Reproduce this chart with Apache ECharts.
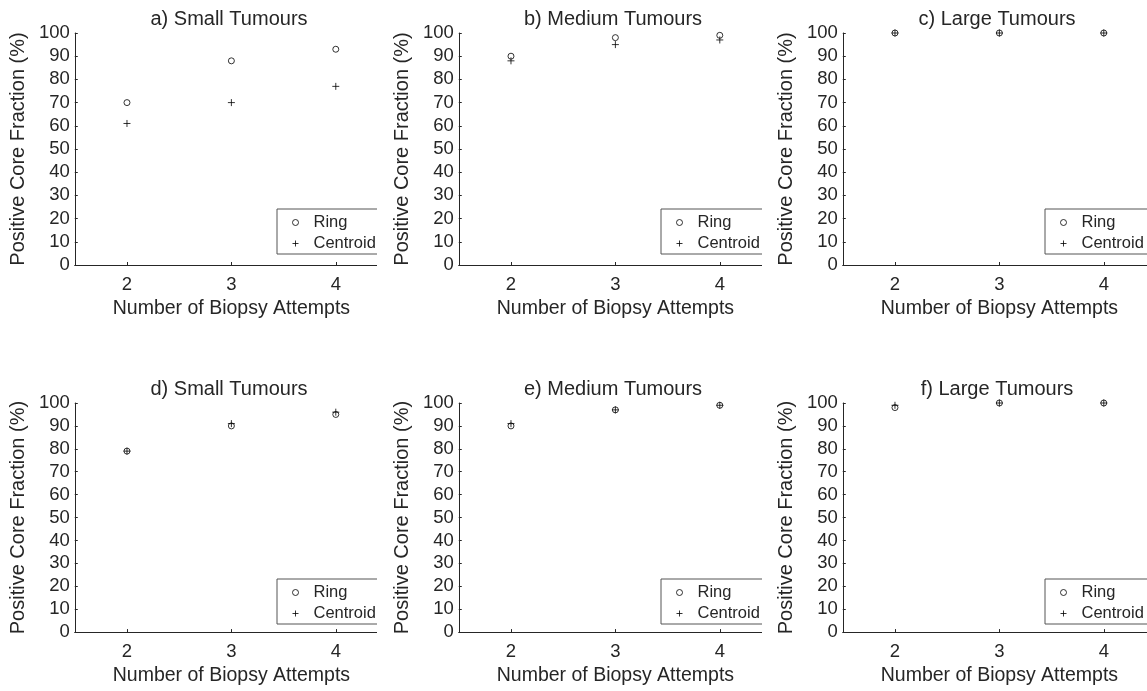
<!DOCTYPE html>
<html>
<head>
<meta charset="utf-8">
<script src="https://cdn.jsdelivr.net/npm/echarts@6/dist/echarts.min.js"></script>
<style>
  html, body { margin: 0; padding: 0; background: #fff; width: 1147px; height: 691px; overflow: hidden; }
  .clip { position: absolute; overflow: hidden; }
  .panel { position: absolute; }
</style>
</head>
<body>
<script>
// Number of biopsy attempts on the x axis and the tick values shown
const attempts = [2, 3, 4];
const xTicks = [2, 3, 4];

// Panel titles
const panelTitles = [
  'a) Small Tumours', 'b) Medium Tumours', 'c) Large Tumours',
  'd) Small Tumours', 'e) Medium Tumours', 'f) Large Tumours'
];

// Positive core fraction (%) per panel, ring vs centroid targeting
const ringA = [70, 88, 93];
const centroidA = [61, 70, 77];
const ringB = [90, 98, 99];
const centroidB = [88, 95, 97];
const ringC = [100, 100, 100];
const centroidC = [100, 100, 100];
const ringD = [79, 90, 95];
const centroidD = [79, 91, 96];
const ringE = [90, 97, 99];
const centroidE = [91, 97, 99];
const ringF = [98, 100, 100];
const centroidF = [99, 100, 100];

const ringSets = [ringA, ringB, ringC, ringD, ringE, ringF];
const centroidSets = [centroidA, centroidB, centroidC, centroidD, centroidE, centroidF];

const FONT = "'Liberation Sans', Arial, Helvetica, sans-serif";
const INK = '#262626';
const PLUS = 'path://M0,5L10,5M5,0L5,10';

// Column clip windows and chart origins (px)
const clipCols = [[0, 377], [377, 762], [762, 1147]];
const chartLeft = [0, 384, 768];
const rows = [
  { top: 0, height: 345, gridTop: 33, titleTop: 9 },
  { top: 345, height: 346, gridTop: 58, titleTop: 34 }
];
const CHART_W = 458;
const GRID_SIDE = 70;
const GRID_H = 232;

function pairs(values) {
  return attempts.map((a, i) => [a, values[i]]);
}

for (let p = 0; p < 6; p++) {
  const col = p % 3;
  const row = rows[Math.floor(p / 3)];
  const clip = document.createElement('div');
  clip.className = 'clip';
  clip.style.left = clipCols[col][0] + 'px';
  clip.style.width = (clipCols[col][1] - clipCols[col][0]) + 'px';
  clip.style.top = row.top + 'px';
  clip.style.height = row.height + 'px';
  document.body.appendChild(clip);

  const el = document.createElement('div');
  el.className = 'panel';
  el.style.left = (chartLeft[col] - clipCols[col][0]) + 'px';
  el.style.top = '0px';
  el.style.width = CHART_W + 'px';
  el.style.height = row.height + 'px';
  clip.appendChild(el);

  const chart = echarts.init(el, null, { renderer: 'canvas' });
  chart.setOption({
    animation: false,
    textStyle: { fontFamily: FONT, color: INK },
    title: {
      text: panelTitles[p],
      left: 'center',
      top: row.titleTop,
      padding: 0,
      textStyle: { fontFamily: FONT, fontSize: 20, fontWeight: 'normal', color: INK }
    },
    grid: {
      left: GRID_SIDE, right: GRID_SIDE, top: row.gridTop, height: GRID_H,
      containLabel: false
    },
    legend: {
      data: ['Ring', 'Centroid'],
      orient: 'vertical',
      left: GRID_SIDE + 207,
      top: row.gridTop + 176,
      padding: [5, 14, 2, 15],
      itemGap: 4,
      itemWidth: 26,
      itemHeight: 6,
      selectedMode: false,
      borderColor: '#555',
      borderWidth: 1,
      backgroundColor: '#fff',
      itemStyle: { color: 'rgba(0,0,0,0)', borderColor: '#000', borderWidth: 1 },
      textStyle: { fontFamily: FONT, fontSize: 16.5, color: INK, lineHeight: 16, padding: 0 }
    },
    xAxis: {
      type: 'value',
      min: 1.5,
      max: 4.5,
      name: 'Number of Biopsy Attempts',
      nameLocation: 'middle',
      nameGap: 32,
      nameTextStyle: { fontFamily: FONT, fontSize: 19.5, color: INK },
      axisLine: { show: true, onZero: false, lineStyle: { color: INK, width: 1 } },
      axisTick: { show: true, inside: true, length: 3, customValues: xTicks, lineStyle: { color: INK } },
      axisLabel: { show: true, customValues: xTicks, margin: 10, fontFamily: FONT, fontSize: 18.5, color: INK },
      splitLine: { show: false }
    },
    yAxis: {
      type: 'value',
      min: 0,
      max: 100,
      interval: 10,
      name: 'Positive Core Fraction (%)',
      nameLocation: 'middle',
      nameGap: 33,
      nameTextStyle: { fontFamily: FONT, fontSize: 20, color: INK },
      axisLine: { show: true, lineStyle: { color: INK, width: 1 } },
      axisTick: { show: true, inside: true, length: 3, lineStyle: { color: INK } },
      axisLabel: { show: true, margin: 5, fontFamily: FONT, fontSize: 18.5, color: INK },
      splitLine: { show: false }
    },
    series: [
      {
        name: 'Ring',
        type: 'scatter',
        symbol: 'circle',
        symbolSize: 6,
        silent: true,
        itemStyle: { color: 'rgba(0,0,0,0)', borderColor: '#000', borderWidth: 1 },
        data: pairs(ringSets[p])
      },
      {
        name: 'Centroid',
        type: 'scatter',
        symbol: PLUS,
        symbolSize: 7,
        silent: true,
        itemStyle: { color: 'rgba(0,0,0,0)', borderColor: '#000', borderWidth: 1 },
        data: pairs(centroidSets[p])
      }
    ]
  });
}
</script>
</body>
</html>
